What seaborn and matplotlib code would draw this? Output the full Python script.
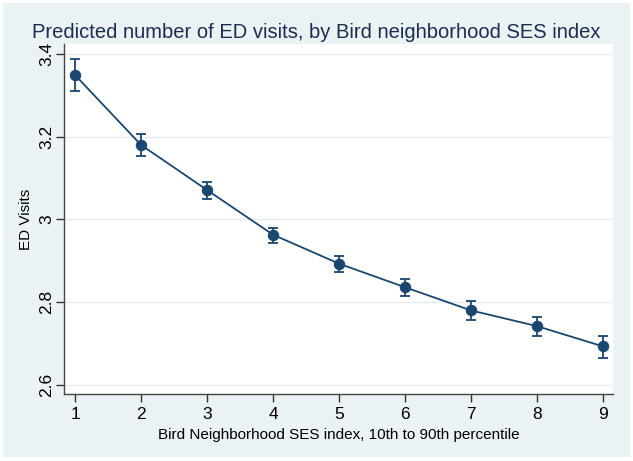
import matplotlib
matplotlib.use("Agg")
import matplotlib.pyplot as plt
import seaborn as sns
import pandas as pd
from matplotlib.patches import Rectangle

# Data
ses_index = [1, 2, 3, 4, 5, 6, 7, 8, 9]
ed_visits = [3.349, 3.180, 3.071, 2.963, 2.893, 2.836, 2.780, 2.742, 2.693]
ci_upper = [3.388, 3.206, 3.091, 2.980, 2.912, 2.856, 2.803, 2.765, 2.719]
ci_lower = [3.311, 3.153, 3.049, 2.944, 2.874, 2.814, 2.756, 2.717, 2.665]
y_ticks = [2.6, 2.8, 3.0, 3.2, 3.4]
y_tick_labels = ["2.6", "2.8", "3", "3.2", "3.4"]

title = "Predicted number of ED visits, by Bird neighborhood SES index"
xlabel = "Bird Neighborhood SES index, 10th to 90th percentile"
ylabel = "ED Visits"

df = pd.DataFrame({"ses": ses_index, "visits": ed_visits,
                   "lo": ci_lower, "hi": ci_upper})

sns.set_theme(style="white")
plt.rcParams["font.family"] = ["Liberation Sans", "DejaVu Sans"]

navy = "#1a476f"
bg = "#eaf2f3"

fig = plt.figure(figsize=(6.33, 4.61), dpi=100)
fig.patch.set_facecolor("white")
fig.patches.append(Rectangle((3 / 633, 4 / 461), 627 / 633, 454 / 461,
                             transform=fig.transFigure, facecolor=bg,
                             edgecolor="none", zorder=-10))

ax = fig.add_axes([64 / 633, 1 - 394 / 461, (613 - 64) / 633, (394 - 44) / 461])
ax.set_facecolor("white")

# grid lines
for yt in y_ticks:
    ax.axhline(yt, color="#e3ecee", lw=1.0, zorder=0)

ax.errorbar(df["ses"], df["visits"],
            yerr=[df["visits"] - df["lo"], df["hi"] - df["visits"]],
            fmt="none", ecolor=navy, elinewidth=1.3, capsize=3.5,
            capthick=1.3, zorder=2)
sns.lineplot(data=df, x="ses", y="visits", ax=ax, color=navy, lw=1.3,
             marker="o", markersize=7.5, markeredgecolor=navy,
             markerfacecolor=navy, zorder=3)

ax.set_xlim(0.833, 9.15)
ax.set_ylim(2.578, 3.424)
ax.set_xticks(ses_index)
ax.set_xticklabels([str(v) for v in ses_index], fontsize=12.5, color="black")
ax.set_yticks(y_ticks)
ax.set_yticklabels(y_tick_labels, fontsize=12.5, rotation=90, va="center",
                   color="black")
ax.tick_params(axis="both", direction="out", length=6, width=1,
               color="#333333", left=True, bottom=True)
ax.tick_params(axis="y", pad=1)
ax.tick_params(axis="x", pad=3)

for s in ["top", "right"]:
    ax.spines[s].set_visible(False)
for s in ["left", "bottom"]:
    ax.spines[s].set_color("#444444")
    ax.spines[s].set_linewidth(1.0)

ax.set_xlabel(xlabel, fontsize=11, color="black", labelpad=5)
ax.set_ylabel(ylabel, fontsize=11, color="black")
ax.yaxis.set_label_coords(-0.057, 0.5)
fig.text(0.5, 1 - 32 / 461, title, ha="center", va="center",
         fontsize=14.5, color="#1c2d4f")

fig.savefig("out.png", dpi=100, facecolor=fig.get_facecolor())
